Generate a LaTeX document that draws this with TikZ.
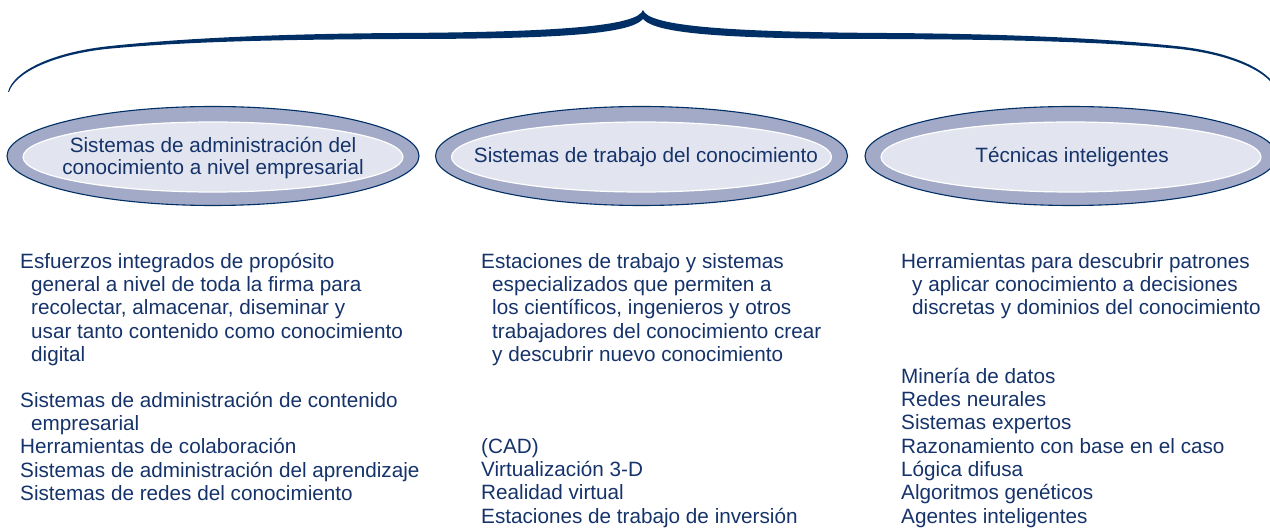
\documentclass[tikz,border=0pt]{standalone}
\usepackage{fontspec}
\setmainfont{Liberation Sans}
\usetikzlibrary{shapes.geometric}
\definecolor{navy}{HTML}{002F66}
\definecolor{txtc}{HTML}{15336A}
\definecolor{band}{HTML}{A3AAC8}
\definecolor{innerc}{HTML}{E2E5EF}
\newcommand\firstl{\rule{0pt}{17pt}}
\begin{document}
\begin{tikzpicture}[x=1pt,y=-1pt,
  outerell/.style={ellipse, fill=band, draw=navy, line width=1.1pt, minimum width=412pt, minimum height=99pt, inner sep=0pt},
  innerell/.style={ellipse, fill=innerc, draw=white, line width=1.2pt, minimum width=380pt, minimum height=70pt, inner sep=0pt},
  elltext/.style={text=txtc, font=\fontsize{20.7}{22}\selectfont, align=center, inner sep=0pt},
  bodytext/.style={text=txtc, font=\fontsize{20.7}{23.3}\selectfont, align=left, inner sep=0pt, anchor=north west}
]
\useasboundingbox (0,0) rectangle (1270,529);

% brace
\fill[navy] (8,92) .. controls (13,72) and (50,53) .. (106,46.5)
  .. controls (200,36) and (320,33.5) .. (400,33)
  .. controls (560,32) and (638,26) .. (643,10)
  .. controls (648,26) and (726,32) .. (886,33)
  .. controls (966,33.5) and (1086,36) .. (1180,46.5)
  .. controls (1236,53) and (1273,72) .. (1278,92)
  -- (1277,92)
  .. controls (1271,73) and (1234,55) .. (1180,49)
  .. controls (1086,40) and (966,39.5) .. (886,39)
  .. controls (726,39) and (656,34) .. (643,19)
  .. controls (630,34) and (560,39) .. (400,39)
  .. controls (320,39.5) and (200,40) .. (106,49)
  .. controls (52,55) and (15,73) .. (9,92) -- cycle;

% ellipses
\node[outerell] (e1) at (213,156) {};
\node[innerell] (e1i) at (213,157) {};
\node[elltext] (t1) at (213,158.5) {Sistemas de administración del\\conocimiento a nivel empresarial};

\node[outerell] (e2) at (641.5,156) {};
\node[innerell] (e2i) at (641.5,157) {};
\node[elltext, anchor=base] (t2) at (646,163) {Sistemas de trabajo del conocimiento};

\node[outerell] (e3) at (1071,156) {};
\node[innerell] (e3i) at (1071,157) {};
\node[elltext, anchor=base] (t3) at (1072,163) {Técnicas inteligentes};

% body texts
\node[bodytext] (d1) at (20,251) {\firstl Esfuerzos integrados de propósito\\
\hspace*{11pt}general a nivel de toda la firma para\\
\hspace*{11pt}recolectar, almacenar, diseminar y\\
\hspace*{11pt}usar tanto contenido como conocimiento\\
\hspace*{11pt}digital};
\node[bodytext] (l1) at (20,390) {\firstl Sistemas de administración de contenido\\
\hspace*{11pt}empresarial\\
Herramientas de colaboración\\
Sistemas de administración del aprendizaje\\
Sistemas de redes del conocimiento};

\node[bodytext] (d2) at (481,251) {\firstl Estaciones de trabajo y sistemas\\
\hspace*{11pt}especializados que permiten a\\
\hspace*{11pt}los científicos, ingenieros y otros\\
\hspace*{11pt}trabajadores del conocimiento crear\\
\hspace*{11pt}y descubrir nuevo conocimiento};
\node[bodytext] (l2) at (481,436) {\firstl (CAD)\\
Virtualización 3-D\\
Realidad virtual\\
Estaciones de trabajo de inversión};

\node[bodytext] (d3) at (901,251) {\firstl Herramientas para descubrir patrones\\
\hspace*{11pt}y aplicar conocimiento a decisiones\\
\hspace*{11pt}discretas y dominios del conocimiento};
\node[bodytext] (l3) at (901,366) {\firstl Minería de datos\\
Redes neurales\\
Sistemas expertos\\
Razonamiento con base en el caso\\
Lógica difusa\\
Algoritmos genéticos\\
Agentes inteligentes};
\end{tikzpicture}
\end{document}
